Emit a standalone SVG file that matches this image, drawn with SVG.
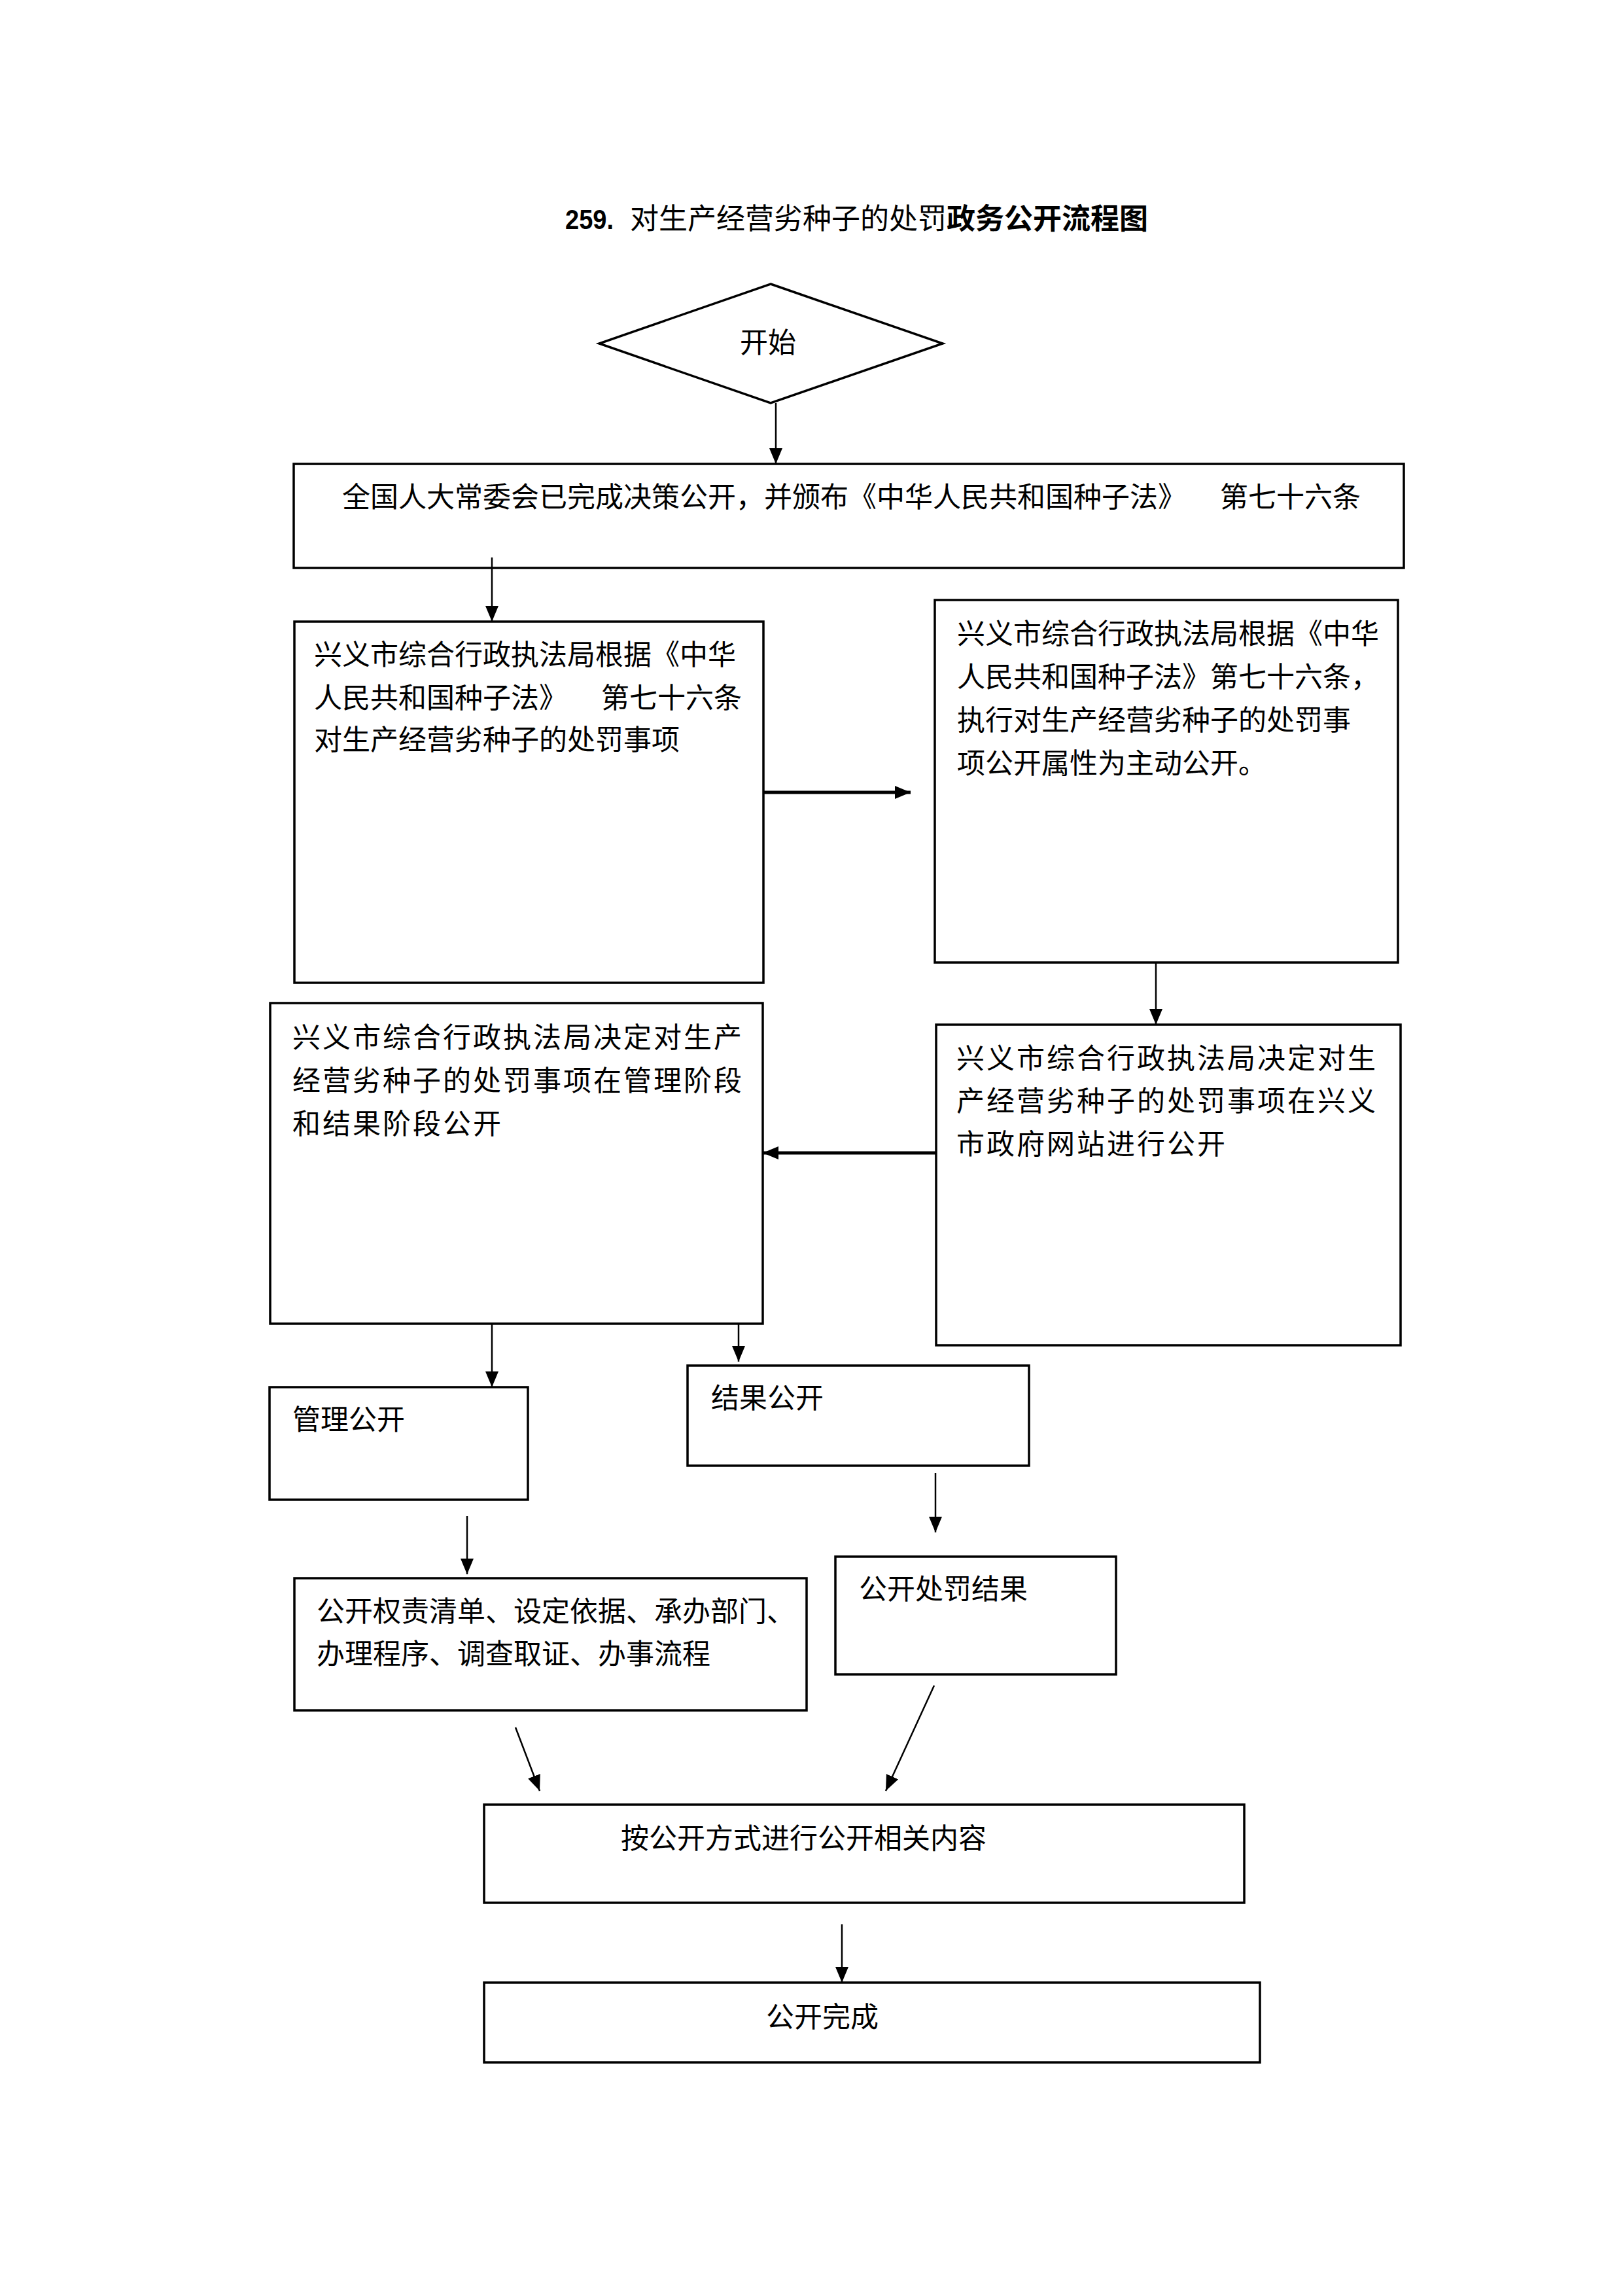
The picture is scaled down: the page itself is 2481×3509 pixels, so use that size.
<svg xmlns="http://www.w3.org/2000/svg" width="2481" height="3509" viewBox="0 0 2481 3509">
<style>
.box{fill:#fff;stroke:#000;stroke-width:3.5}
.t{font-family:"Noto Sans CJK SC","Noto Sans",sans-serif;font-size:43px;fill:#000}
.ls{letter-spacing:3px}
.c{fill:none;stroke:#000;stroke-width:2.5}
.ck{fill:none;stroke:#000;stroke-width:5}
</style>
<defs>
<marker id="ah" markerUnits="userSpaceOnUse" markerWidth="24" markerHeight="20" refX="24" refY="10" orient="auto" viewBox="0 0 24 20">
<path d="M0,0 L24,10 L0,20 z" fill="#000"/>
</marker>
</defs>
<rect width="2481" height="3509" fill="#fff"/>
<text class="t" y="350" font-size="44"><tspan x="864" font-family="Liberation Sans,sans-serif" font-weight="bold" textLength="74" lengthAdjust="spacingAndGlyphs">259.</tspan><tspan x="963" style="font-size:44px">对生产经营劣种子的处罚</tspan><tspan style="font-size:44px" font-weight="bold">政务公开流程图</tspan></text>

<g id="start">
<polygon class="box" points="1178,434 1441,525 1178,616 916,525"/>
<text class="t" x="1131" y="539">开始</text>
</g>
<g id="n1">
<rect class="box" x="449" y="709" width="1697" height="159"/>
<text class="t" x="523" y="775">全国人大常委会已完成决策公开，并颁布《中华人民共和国种子法》<tspan dx="52">第七十六条</tspan></text>
</g>
<g id="n2">
<rect class="box" x="450" y="950" width="717" height="552"/>
<text class="t" x="480" y="1016">兴义市综合行政执法局根据《中华</text>
<text class="t" x="480" y="1082">人民共和国种子法》<tspan dx="52">第七十六条</tspan></text>
<text class="t" x="480" y="1146">对生产经营劣种子的处罚事项</text>
</g>
<g id="n3">
<rect class="box" x="1429" y="917" width="708" height="554"/>
<text class="t" x="1463" y="984">兴义市综合行政执法局根据《中华</text>
<text class="t" x="1463" y="1050">人民共和国种子法》第七十六条，</text>
<text class="t" x="1463" y="1116">执行对生产经营劣种子的处罚事</text>
<text class="t" x="1463" y="1182">项公开属性为主动公开。</text>
</g>
<g id="n4">
<rect class="box" x="413" y="1533" width="753" height="490"/>
<text class="t ls" x="447" y="1601">兴义市综合行政执法局决定对生产</text>
<text class="t ls" x="447" y="1667">经营劣种子的处罚事项在管理阶段</text>
<text class="t ls" x="447" y="1733">和结果阶段公开</text>
</g>
<g id="n5">
<rect class="box" x="1431" y="1566" width="710" height="490"/>
<text class="t ls" x="1462" y="1633">兴义市综合行政执法局决定对生</text>
<text class="t ls" x="1462" y="1698">产经营劣种子的处罚事项在兴义</text>
<text class="t ls" x="1462" y="1764">市政府网站进行公开</text>
</g>
<g id="n6">
<rect class="box" x="412" y="2120" width="395" height="172"/>
<text class="t" x="447" y="2185">管理公开</text>
</g>
<g id="n7">
<rect class="box" x="1051" y="2087" width="522" height="153"/>
<text class="t" x="1087" y="2152">结果公开</text>
</g>
<g id="n8">
<rect class="box" x="450" y="2412" width="783" height="202"/>
<text class="t" x="484" y="2478">公开权责清单、设定依据、承办部门、</text>
<text class="t" x="484" y="2543">办理程序、调查取证、办事流程</text>
</g>
<g id="n9">
<rect class="box" x="1277" y="2379" width="429" height="180"/>
<text class="t" x="1313" y="2444">公开处罚结果</text>
</g>
<g id="n10">
<rect class="box" x="740" y="2758" width="1162" height="150"/>
<text class="t" x="949" y="2825">按公开方式进行公开相关内容</text>
</g>
<g id="n11">
<rect class="box" x="740" y="3030" width="1186" height="122"/>
<text class="t" x="1171" y="3098">公开完成</text>
</g>
<g id="connectors">
<line class="c" x1="1186" y1="616" x2="1186" y2="709" marker-end="url(#ah)"/>
<line class="c" x1="752" y1="852" x2="752" y2="950" marker-end="url(#ah)"/>
<line class="ck" x1="1167" y1="1211" x2="1392" y2="1211" marker-end="url(#ah)"/>
<line class="c" x1="1767" y1="1471" x2="1767" y2="1566" marker-end="url(#ah)"/>
<line class="ck" x1="1431" y1="1762" x2="1166" y2="1762" marker-end="url(#ah)"/>
<line class="c" x1="752" y1="2023" x2="752" y2="2120" marker-end="url(#ah)"/>
<line class="c" x1="1129" y1="2023" x2="1129" y2="2081" marker-end="url(#ah)"/>
<line class="c" x1="1430" y1="2251" x2="1430" y2="2342" marker-end="url(#ah)"/>
<line class="c" x1="714" y1="2317" x2="714" y2="2406" marker-end="url(#ah)"/>
<line class="c" x1="788" y1="2640" x2="825" y2="2737" marker-end="url(#ah)"/>
<line class="c" x1="1428" y1="2576" x2="1354" y2="2737" marker-end="url(#ah)"/>
<line class="c" x1="1287" y1="2941" x2="1287" y2="3030" marker-end="url(#ah)"/>
</g>
</svg>
